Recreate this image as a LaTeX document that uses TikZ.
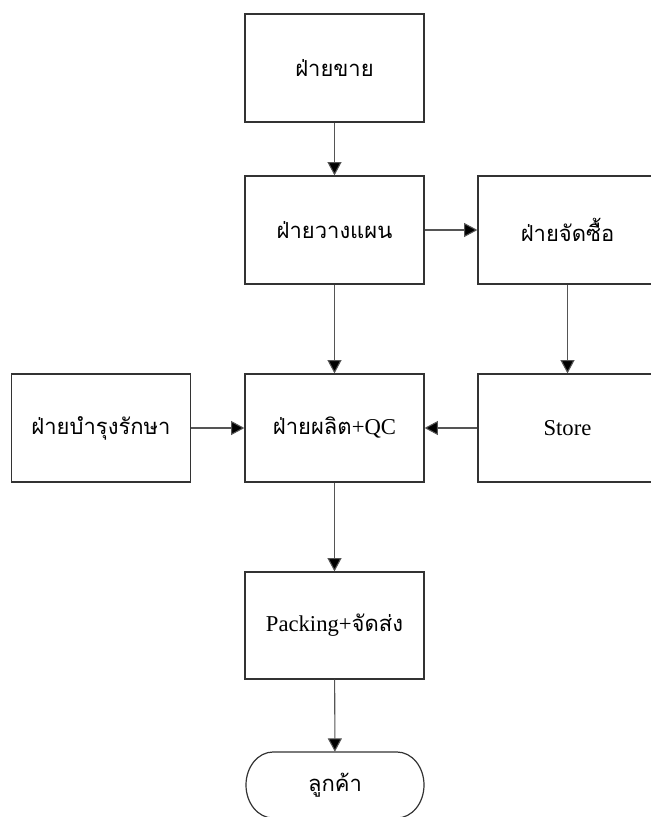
\documentclass[tikz,border=0pt]{standalone}
\usepackage{fontspec}
\setmainfont{Liberation Serif}
\newfontfamily\thaifont[Script=Thai]{Loma}
\usetikzlibrary{arrows.meta}
\definecolor{edgegray}{HTML}{333333}
\definecolor{linkgray}{HTML}{555555}
\newcommand{\thtext}[1]{{\thaifont\fontsize{16.5}{19}\selectfont #1}}
\begin{document}
\begin{tikzpicture}[x=0.75pt,y=-0.75pt,
  dept/.style={draw=edgegray, line width=0.9pt, minimum width=134.25pt,
    minimum height=81pt, inner sep=0pt, font=\fontsize{17}{20}\selectfont},
  flow/.style={draw=linkgray, line width=0.8pt,
    -{Triangle[length=10pt,width=10.5pt,fill=black]}},
  termtext/.style={minimum width=133.5pt, minimum height=49.5pt, inner sep=0pt,
    font=\fontsize{17}{20}\selectfont}]
\useasboundingbox (0,0) rectangle (650,817);

% departments
\node[dept] (sales) at (334.5,68)  {\thtext{ฝ่ายขาย}};
\node[dept] (plan)  at (334.5,230) {\thtext{ฝ่ายวางแผน}};
\node[dept] (buy)   at (567.5,230) {\thtext{ฝ่ายจัดซื้อ}};
\node[dept] (maint) at (101,428)   {\thtext{ฝ่ายบำรุงรักษา}};
\node[dept] (prod)  at (334.5,428) {\thtext{ฝ่ายผลิต}+QC};
\node[dept] (store) at (567.5,428) {Store};
\node[dept, minimum height=80.25pt] (pack) at (334.5,625.5)
  {Packing+\thtext{จัดส่ง}};

% customer terminator with elliptical ends
\node[termtext] (cust) at (335,785) {\thtext{ลูกค้า}};
\draw[edgegray, line width=0.9pt]
  (273,752) -- (397,752)
  .. controls (411.9,752) and (424,766.8) .. (424,785)
  .. controls (424,803.2) and (411.9,818) .. (397,818)
  -- (273,818)
  .. controls (258.1,818) and (246,803.2) .. (246,785)
  .. controls (246,766.8) and (258.1,752) .. (273,752) -- cycle;

% connectors
\draw[flow] (sales) -- (plan);
\draw[flow] (plan) -- (buy);
\draw[flow] (plan) -- (prod);
\draw[flow] (buy.south) -- (store.north);
\draw[flow] (maint) -- (prod);
\draw[flow] (store) -- (prod);
\draw[flow] (prod) -- (pack);
\draw[flow] (pack) -- (cust);
\end{tikzpicture}
\end{document}
